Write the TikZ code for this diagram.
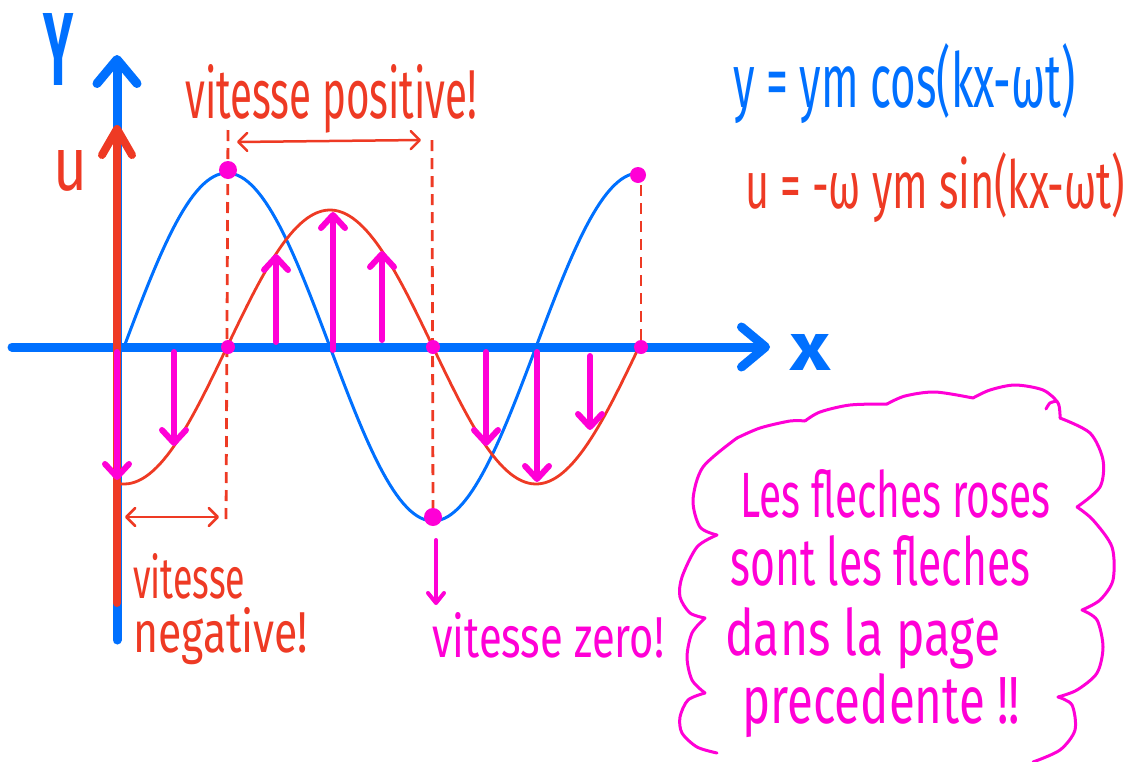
\documentclass[tikz,border=0pt]{standalone}
\usepackage{fontspec}
\setmainfont{Fira Sans}
\usetikzlibrary{arrows.meta}
\definecolor{bluec}{RGB}{0,112,255}
\definecolor{redc}{RGB}{238,58,36}
\definecolor{pinkc}{RGB}{255,0,214}
\newcommand\hw[3]{\resizebox{#1pt}{#2pt}{#3}}
\tikzset{
  axisb/.style={draw=bluec, line width=9pt, line cap=round, -{Straight Barb[length=24pt,width=40pt,round]}},
  axisr/.style={draw=redc, line width=8pt, line cap=round, -{Straight Barb[length=26pt,width=30pt,round]}},
  curveb/.style={draw=bluec, line width=3pt},
  curver/.style={draw=redc, line width=2.8pt},
  dashr/.style={draw=redc, line width=2.8pt, dash pattern=on 11pt off 7pt},
  dblr/.style={draw=redc, line width=2.5pt, line cap=round, {Straight Barb[length=9pt,width=18pt,round]}-{Straight Barb[length=9pt,width=18pt,round]}},
  parr/.style={draw=pinkc, line width=6pt, line cap=round, -{Straight Barb[length=13pt,width=24pt,round]}},
  parrs/.style={draw=pinkc, line width=4pt, line cap=round, -{Straight Barb[length=10pt,width=16pt,round]}},
  cloud/.style={draw=pinkc, line width=3pt, line cap=round},
  txt/.style={inner sep=0pt, anchor=base west},
}
\begin{document}
\begin{tikzpicture}[x=1pt,y=-1pt]
\useasboundingbox (0,0) rectangle (1138,761);
% axes
\draw[axisb] (12,347) -- (770,347);
\draw[axisb] (117,640) -- (117,55);
\draw[axisr] (117,603) -- (117,125);
% curves
\draw[curveb] plot[domain=124:638, samples=150] (\x,{347-174*sin(0.8738*(\x-124))});
\draw[curver] plot[domain=118:640, samples=150] (\x,{347+137*cos(0.8738*(\x-124))});
% dashed guides
\draw[dashr] (228,130) -- (226,525);
\draw[dashr] (432,140) -- (433,512);
\draw[dashr] (641,185) -- (641,347);
% double arrows
\draw[dblr] (237,142) -- (421,140);
\draw[dblr] (125,517) -- (219,517);
% pink velocity arrows
\draw[parr] (117,352) -- (117,480);
\draw[parr] (174,352) -- (174,446);
\draw[parr] (276,342) -- (276,254);
\draw[parr] (333,350) -- (333,212);
\draw[parr] (382,340) -- (382,251);
\draw[parr] (486,352) -- (486,446);
\draw[parr] (537,352) -- (537,482);
\draw[parr] (590,356) -- (590,430);
\draw[parrs] (436,540) -- (436,605);
% dots
\fill[pinkc] (228,170) circle (9pt);
\fill[pinkc] (433,517) circle (9pt);
\fill[pinkc] (638,175) circle (8pt);
\fill[pinkc] (228,347) circle (7pt);
\fill[pinkc] (433,347) circle (7pt);
\fill[pinkc] (641,347) circle (7pt);
% axis labels
\node[txt, text=bluec] (ylab) at (43,85) {\hw{30}{72}{\bfseries Y}};
\node[txt, text=redc] (ulab) at (53,190) {\hw{34}{40}{u}};
\node[txt, text=bluec] (xlab) at (790,370) {\hw{40}{36}{\bfseries x}};
% texts
\node[txt, text=redc] (vpos) at (185,118) {\hw{292}{54}{vitesse positive!}};
\node[txt, text=bluec] (eqy) at (733,107) {\hw{342}{64}{y = ym cos(kx-ωt)}};
\node[txt, text=redc] (equ) at (745,208) {\hw{380}{56}{u = -ω ym sin(kx-ωt)}};
\node[txt, text=redc] (vneg1) at (133,598) {\hw{112}{45}{vitesse}};
\node[txt, text=redc] (vneg2) at (133,652) {\hw{175}{45}{negative!}};
\node[txt, text=pinkc] (vzero) at (432,657) {\hw{232}{45}{vitesse zero!}};
\node[txt, text=pinkc] (c1) at (740,517) {\hw{310}{48}{Les fleches roses}};
\node[txt, text=pinkc] (c2) at (730,585) {\hw{300}{50}{sont les fleches}};
\node[txt, text=pinkc] (c3) at (725,655) {\hw{275}{48}{dans la page}};
\node[txt, text=pinkc] (c4) at (742,723) {\hw{278}{50}{precedente !!}};
% cloud
\draw[cloud] plot[smooth] coordinates {(737,438) (703,467) (693,500) (700,527) (717,535)};
\draw[cloud] plot[smooth] coordinates {(717,535) (697,547) (682,577) (680,597) (690,613) (705,618)};
\draw[cloud] plot[smooth] coordinates {(705,618) (692,633) (687,657) (692,680) (705,693)};
\draw[cloud] plot[smooth] coordinates {(705,693) (688,700) (680,717) (682,733) (697,747) (717,753)};
\draw[cloud] plot[smooth] coordinates {(737,438) (760,428) (790,421) (805,421)};
\draw[cloud] plot[smooth] coordinates {(805,421) (820,412) (850,405) (887,404)};
\draw[cloud] plot[smooth] coordinates {(887,404) (905,396) (935,392) (973,398)};
\draw[cloud] plot[smooth] coordinates {(973,398) (990,390) (1015,385) (1043,390) (1058,403) (1060,418)};
\draw[cloud] plot[smooth] coordinates {(1046,409) (1050,403) (1057,401)};
\draw[cloud] plot[smooth] coordinates {(1060,418) (1090,433) (1103,460) (1100,487) (1077,507)};
\draw[cloud] plot[smooth] coordinates {(1077,507) (1093,520) (1112,547) (1113,580) (1100,600) (1082,610)};
\draw[cloud] plot[smooth] coordinates {(1082,610) (1097,620) (1103,647) (1097,673) (1077,690) (1058,697)};
\draw[cloud] plot[smooth] coordinates {(1058,697) (1072,705) (1075,730) (1060,750) (1033,762)};
\end{tikzpicture}
\end{document}
